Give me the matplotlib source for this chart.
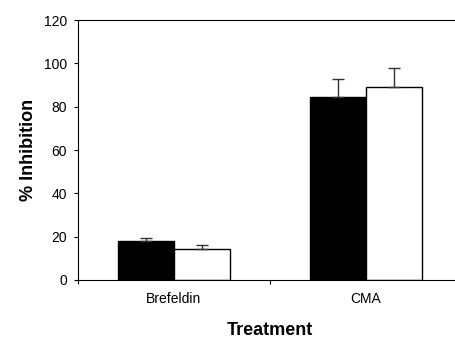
import numpy as np
import matplotlib.pyplot as plt

plt.rcParams['font.family'] = ['Liberation Sans', 'DejaVu Sans']

# Data
treatments = ["Brefeldin", "CMA"]
black_vals = [18, 84.5]
black_err = [1.5, 8.5]
white_vals = [14.5, 89]
white_err = [1.7, 9]

fig = plt.figure(figsize=(4.56, 3.38), dpi=100)
ax = fig.add_axes([0.171, 0.1716, 0.842, 0.769])

x = np.arange(len(treatments)) + 0.5
w = 0.29
ax.bar(x - w / 2, black_vals, w, color="black", edgecolor="black", linewidth=1)
ax.bar(x + w / 2, white_vals, w, color="white", edgecolor="black", linewidth=1)
ax.errorbar(x - w / 2, black_vals, yerr=[[0, 0], black_err], fmt="none",
            ecolor="#333333", elinewidth=1, capsize=4, capthick=1)
ax.errorbar(x + w / 2, white_vals, yerr=[[0, 0], white_err], fmt="none",
            ecolor="#333333", elinewidth=1, capsize=4, capthick=1)

ax.set_xlim(0, 2)
ax.set_ylim(0, 120)
ax.set_yticks(np.arange(0, 121, 20))
ax.set_xticks([0, 1, 2])
ax.set_xticklabels([])
ax.set_xticks(x, minor=True)
ax.set_xticklabels(treatments, minor=True)
ax.tick_params(axis="x", which="minor", length=0, pad=9, labelsize=10)
ax.tick_params(axis="x", which="major", length=3)
ax.tick_params(axis="y", length=3, pad=5, labelsize=10)

ax.set_ylabel("% Inhibition", fontsize=13, fontweight="bold", labelpad=5)
ax.set_xlabel("Treatment", fontsize=13, fontweight="bold", labelpad=11)

fig.savefig("out.png", dpi=100)
